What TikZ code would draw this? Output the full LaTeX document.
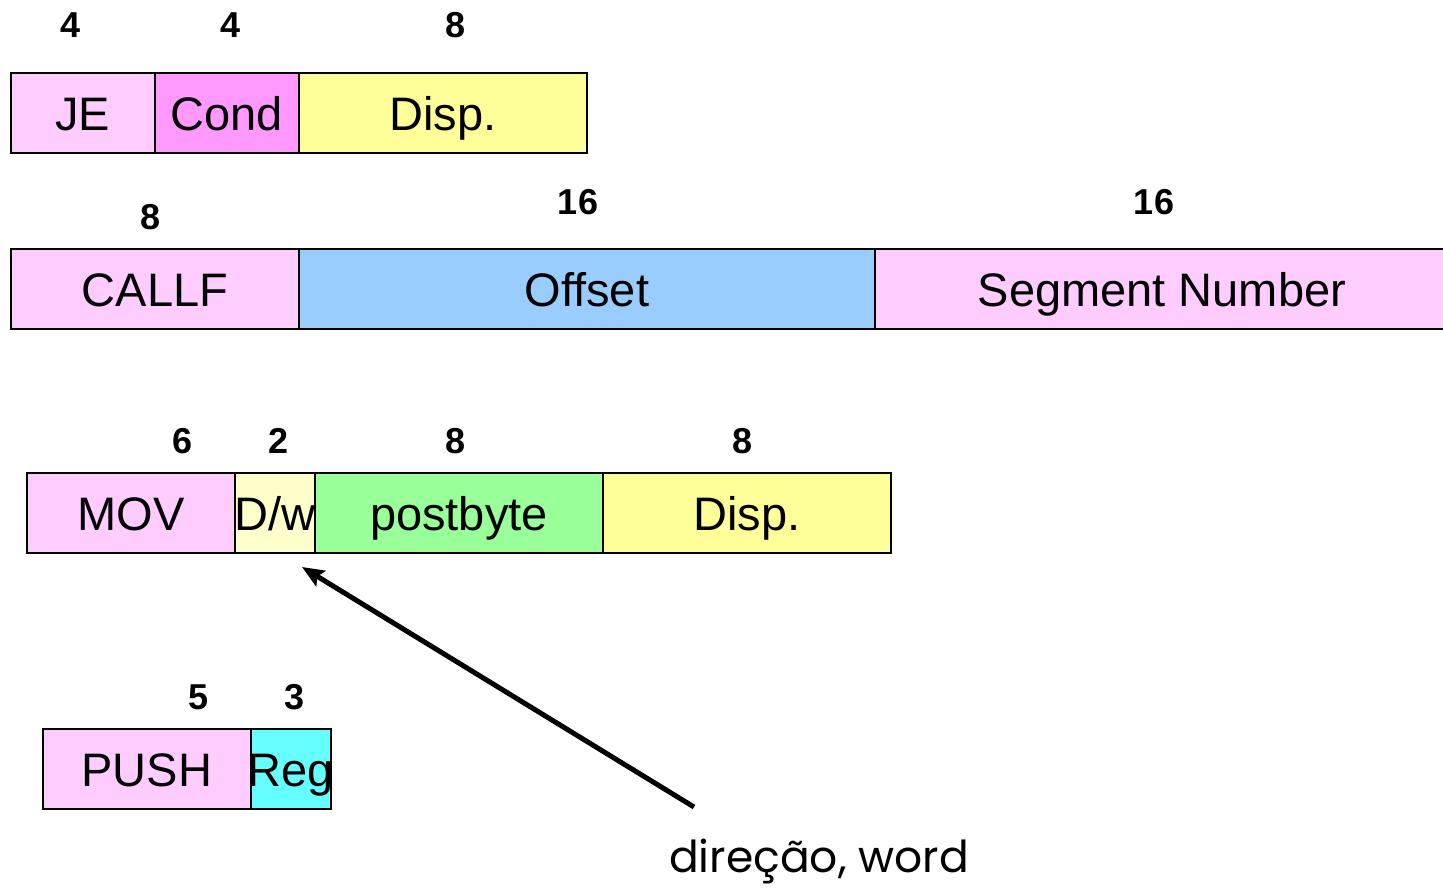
\documentclass[tikz,border=0pt]{standalone}
\usepackage{fontspec}
\setmainfont{Liberation Sans}
\newfontfamily\notefont{Poppins}
\usetikzlibrary{arrows.meta}
\definecolor{cpink}{HTML}{FFCCFF}
\definecolor{cmag}{HTML}{FF99FF}
\definecolor{cyel}{HTML}{FFFF99}
\definecolor{cblue}{HTML}{99CCFF}
\definecolor{cpale}{HTML}{FFFFCC}
\definecolor{cgreen}{HTML}{99FF99}
\definecolor{ccyan}{HTML}{66FFFF}
\tikzset{
  field/.style={draw=black, line width=1.8pt, inner sep=0pt, minimum height=80pt, anchor=north west},
  ftext/.style={anchor=base, inner sep=0pt, font=\fontsize{47}{50}\selectfont},
  bits/.style={inner sep=0pt, font=\fontsize{36}{38}\selectfont\bfseries},
}
\newcommand{\fld}[6]{% name, x, y, width, colour, text
  \node[field, fill=#5, minimum width=#4pt] (#1) at (#2,#3) {};
  \node[ftext] (#1t) at ([yshift=23.5pt]#1.south) {#6};
}
\begin{document}
\begin{tikzpicture}[x=1pt,y=-1pt]
\useasboundingbox (0,0) rectangle (1443,888);
% Row 1
\fld{je}{10}{72}{144}{cpink}{JE}
\fld{cond}{154}{72}{144}{cmag}{Cond}
\fld{disp}{298}{72}{288}{cyel}{Disp.}
\node[bits] (n1) at (71,25) {4};
\node[bits] (n2) at (231,25) {4};
\node[bits] (n3) at (456,25) {8};
% Row 2
\fld{callf}{10}{248}{288}{cpink}{CALLF}
\fld{offset}{298}{248}{576}{cblue}{Offset}
\fld{seg}{874}{248}{574}{cpink}{Segment Number}
\node[bits] (n4) at (151,217) {8};
\node[bits] (n5) at (578,202) {16};
\node[bits] (n6) at (1154,202) {16};
% Row 3
\fld{mov}{26}{472}{208}{cpink}{MOV}
\fld{dw}{234}{472}{80}{cpale}{D/w}
\fld{post}{314}{472}{288}{cgreen}{postbyte}
\fld{disp2}{602}{472}{288}{cyel}{Disp.}
\node[bits] (n7) at (183,441) {6};
\node[bits] (n8) at (279,441) {2};
\node[bits] (n9) at (456,441) {8};
\node[bits] (n10) at (743,441) {8};
% Row 4
\fld{push}{42}{728}{208}{cpink}{PUSH}
\fld{reg}{250}{728}{80}{ccyan}{Reg}
\node[bits] (n11) at (199,697) {5};
\node[bits] (n12) at (295,697) {3};
% Note and arrow
\coordinate (tip) at (302,567);
\coordinate (tail) at (694,807);
\draw[line width=5pt, -{Stealth[length=22pt,width=18pt,inset=4pt]}] (tail) -- (tip);
\node[inner sep=0pt, anchor=base, font=\notefont\fontsize{44}{46}\selectfont] (note) at (819,872) {direção, word};
\end{tikzpicture}
\end{document}
